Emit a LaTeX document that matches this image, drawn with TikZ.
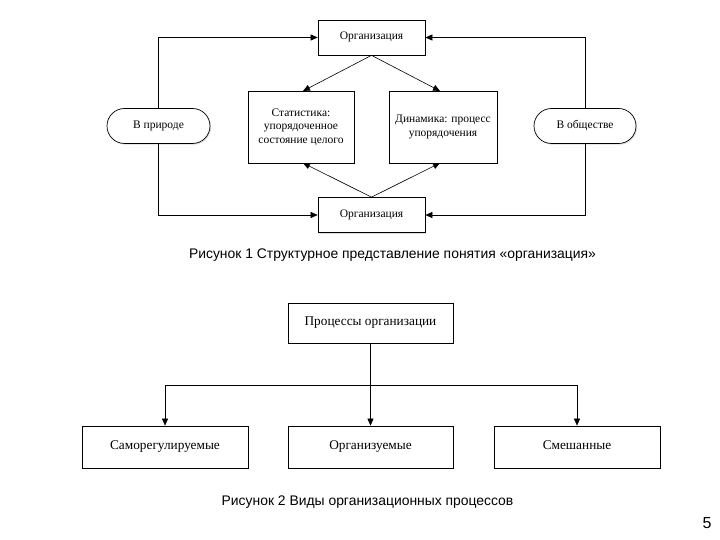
\documentclass[tikz,border=0pt]{standalone}
\usepackage{fontspec}
\setmainfont{Liberation Serif}
\newfontfamily\capfont{Liberation Sans}
\usetikzlibrary{arrows.meta,shapes.misc,shadows}
\begin{document}
\begin{tikzpicture}[x=1pt,y=-1pt,
  box/.style={draw, line width=0.7pt, fill=white, rectangle, inner sep=2pt, align=center,
    drop shadow={opacity=0.25, shadow xshift=1.2pt, shadow yshift=-1.2pt}},
  pill/.style={draw, line width=0.7pt, fill=white, rounded rectangle, inner sep=2pt,
    drop shadow={opacity=0.25, shadow xshift=1.2pt, shadow yshift=-1.2pt}},
  arr/.style={draw, line width=0.6pt, -{Triangle[length=7pt,width=6pt]}},
  one/.style={text height=0.7em, text depth=0.22em},
  lbl/.style={font=\fontsize{11.5}{13.5}\selectfont},
  lblb/.style={font=\fontsize{13.3}{15}\selectfont},
  captext/.style={font=\capfont\fontsize{13.9}{15}\selectfont}]
\useasboundingbox (0,0) rectangle (720,540);
% Figure 1
\node[box, lbl, one, minimum width=107pt, minimum height=35pt] (top) at (371.5,37.5) {Организация};
\node[box, lbl, minimum width=106pt, minimum height=72pt] (stat) at (301,127) {Статистика:\\упорядоченное\\состояние целого};
\node[box, lbl, minimum width=108pt, minimum height=72pt] (dyn) at (443,127) {Динамика: процесс\\упорядочения};
\node[box, lbl, one, minimum width=107pt, minimum height=35pt] (bot) at (371.5,215) {Организация};
\node[pill, lbl, one, minimum width=107pt, minimum height=35pt] (nat) at (158.5,126) {В природе};
\node[pill, lbl, one, minimum width=106pt, minimum height=35pt] (soc) at (585,126) {В обществе};
\coordinate (stt) at (303,91);
\coordinate (dyt) at (440,91);
\coordinate (stb) at (303,163);
\coordinate (dyb) at (440,163);
\draw[arr] (top.south) -- (stt);
\draw[arr] (top.south) -- (dyt);
\draw[arr] (bot.north) -- (stb);
\draw[arr] (bot.north) -- (dyb);
\draw[arr] (nat.north) |- (top.west);
\draw[arr] (nat.south) |- (bot.west);
\draw[arr] (soc.north) |- (top.east);
\draw[arr] (soc.south) |- (bot.east);
\node[captext, anchor=center] (cap1) at (392.5,255) {Рисунок 1 Структурное представление понятия «организация»};
% Figure 2
\node[box, lblb, one, minimum width=165pt, minimum height=40pt] (proc) at (370.5,323) {Процессы организации};
\node[box, lblb, one, minimum width=166pt, minimum height=42pt] (c1) at (165,447) {Саморегулируемые};
\node[box, lblb, one, minimum width=165pt, minimum height=42pt] (c2) at (370.5,447) {Организуемые};
\node[box, lblb, one, minimum width=166pt, minimum height=42pt] (c3) at (577,447) {Смешанные};
\coordinate (hj) at (370.5,385);
\draw[line width=0.6pt] (proc.south) -- (hj);
\draw[arr] (hj) -- (c2.north);
\draw[arr] (hj) -| (c1.north);
\draw[arr] (hj) -| (c3.north);
\node[captext, anchor=center] (cap2) at (367.5,502) {Рисунок 2 Виды организационных процессов};
\node[font=\capfont\fontsize{16}{18}\selectfont] (pg) at (707,523) {5};
\end{tikzpicture}
\end{document}
